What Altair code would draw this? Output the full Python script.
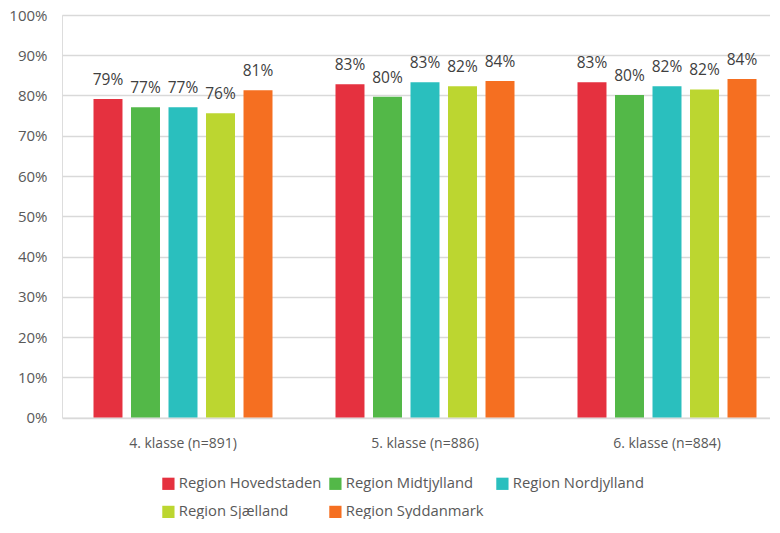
import altair as alt
import pandas as pd

groups = ["4. klasse (n=891)", "5. klasse (n=886)", "6. klasse (n=884)"]
regions = ["Region Hovedstaden", "Region Midtjylland", "Region Nordjylland",
           "Region Sjælland", "Region Syddanmark"]
colors = ["#E5313F", "#53B848", "#2ABFBE", "#BCD630", "#F56F21"]
y_ticks = [0, 0.1, 0.2, 0.3, 0.4, 0.5, 0.6, 0.7, 0.8, 0.9, 1.0]

v_4 = [0.791, 0.771, 0.771, 0.756, 0.813]
v_5 = [0.828, 0.797, 0.833, 0.823, 0.836]
v_6 = [0.833, 0.801, 0.823, 0.815, 0.841]

rows = []
for g, vals in zip(groups, [v_4, v_5, v_6]):
    for r, v in zip(regions, vals):
        rows.append({"group": g, "region": r, "value": v})
df = pd.DataFrame(rows)

FONT = "Open Sans"
GRAY = "#595959"

base = alt.Chart(df).encode(
    x=alt.X("group:N", sort=groups,
            scale=alt.Scale(paddingInner=0, paddingOuter=0, range=[0, 726]),
            axis=alt.Axis(title=None, labelAngle=0, ticks=False, domain=False,
                          labelPadding=19, labelFontSize=14, labelColor=GRAY,
                          labelFont=FONT)),
    xOffset=alt.XOffset("region:N", sort=regions,
                        scale=alt.Scale(paddingInner=0.227, paddingOuter=0.84)),
    y=alt.Y("value:Q", scale=alt.Scale(domain=[0, 1]),
            axis=alt.Axis(title=None, format=".0%", values=y_ticks,
                          ticks=False, domain=False, labelPadding=15,
                          labelFontSize=15, labelColor=GRAY, labelFont=FONT,
                          gridColor="#d9d9d9", gridWidth=1.5)),
)

bars = base.mark_bar().encode(
    color=alt.Color("region:N", sort=regions,
                    scale=alt.Scale(domain=regions, range=colors),
                    legend=alt.Legend(title=None, orient="none", legendX=99, legendY=461,
                                      direction="horizontal",
                                      columns=3, gridAlign="all", columnPadding=6,
                                      rowPadding=12.5, symbolType="square", symbolSize=150,
                                      symbolStrokeWidth=0, labelFontSize=14.8,
                                      labelColor=GRAY, labelFont=FONT, labelOffset=3,
                                      labelLimit=300, padding=0)),
)

labels = base.mark_text(baseline="bottom", dy=-11, fontSize=15.5, color="#404040",
                        font=FONT).encode(
    text=alt.Text("value:Q", format=".0%"),
)

chart = (bars + labels).properties(
    width=762, height=511,
    autosize=alt.AutoSizeParams(type="fit", contains="padding"),
    padding={"left": 0, "right": 0, "top": 0, "bottom": 68.5},
).configure_view(stroke=None).configure(background="white")

chart.save("out.html", embed_options={"renderer": "svg", "actions": False})
